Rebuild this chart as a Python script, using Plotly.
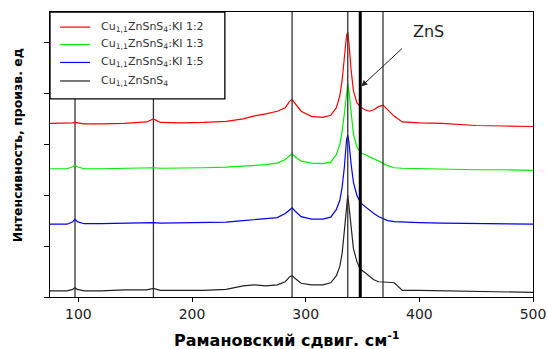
import plotly.graph_objects as go

# Raman shift grid (cm^-1)
shift = [75, 90, 95, 97, 99, 105, 120, 140, 160, 166, 172, 190, 210, 230, 245, 255, 265, 275,
         282, 286, 288, 291, 296, 305, 315, 322, 327, 330, 332, 334, 336, 337, 338, 340, 342,
         345, 348, 352, 356, 360, 364, 368, 372, 378, 385, 400, 420, 450, 475, 500]

ki_1_2 = [3.41, 3.41, 3.42, 3.43, 3.42, 3.40, 3.40, 3.41, 3.44, 3.50, 3.43, 3.42, 3.43, 3.45,
          3.50, 3.56, 3.60, 3.65, 3.72, 3.85, 3.88, 3.80, 3.65, 3.55, 3.53, 3.57, 3.72, 3.95,
          4.25, 4.7, 5.15, 5.2, 5.0, 4.45, 4.05, 3.82, 3.74, 3.68, 3.65, 3.68, 3.74, 3.77, 3.68,
          3.55, 3.44, 3.42, 3.41, 3.37, 3.36, 3.35]

ki_1_3 = [2.52, 2.52, 2.56, 2.59, 2.56, 2.52, 2.52, 2.53, 2.53, 2.54, 2.53, 2.53, 2.54, 2.55,
          2.57, 2.58, 2.60, 2.63, 2.70, 2.78, 2.81, 2.75, 2.67, 2.63, 2.62, 2.65, 2.80, 3.00,
          3.25, 3.60, 4.10, 4.20, 4.05, 3.55, 3.20, 2.95, 2.84, 2.80, 2.76, 2.72, 2.68, 2.63,
          2.58, 2.54, 2.53, 2.52, 2.52, 2.50, 2.50, 2.49]

ki_1_5 = [1.43, 1.43, 1.48, 1.53, 1.48, 1.44, 1.44, 1.45, 1.45, 1.46, 1.45, 1.46, 1.46, 1.47,
          1.50, 1.52, 1.53, 1.56, 1.64, 1.72, 1.75, 1.68, 1.58, 1.53, 1.53, 1.57, 1.72, 1.90,
          2.15, 2.55, 3.10, 3.18, 3.05, 2.60, 2.25, 2.00, 1.86, 1.78, 1.70, 1.64, 1.58, 1.54,
          1.50, 1.48, 1.47, 1.46, 1.45, 1.44, 1.43, 1.43]

pure = [0.12, 0.12, 0.15, 0.18, 0.15, 0.12, 0.12, 0.14, 0.14, 0.17, 0.13, 0.13, 0.13, 0.15,
        0.22, 0.24, 0.22, 0.24, 0.30, 0.40, 0.42, 0.36, 0.27, 0.24, 0.24, 0.28, 0.42, 0.60,
        0.85, 1.30, 1.85, 2.00, 1.80, 1.30, 0.95, 0.70, 0.55, 0.48, 0.40, 0.34, 0.30, 0.29,
        0.29, 0.28, 0.13, 0.13, 0.12, 0.11, 0.10, 0.09]

series_names = ["Cu<sub>1,1</sub>ZnSnS<sub>4</sub>:KI 1:2",
                "Cu<sub>1,1</sub>ZnSnS<sub>4</sub>:KI 1:3",
                "Cu<sub>1,1</sub>ZnSnS<sub>4</sub>:KI 1:5",
                "Cu<sub>1,1</sub>ZnSnS<sub>4</sub>"]
series_values = [ki_1_2, ki_1_3, ki_1_5, pure]
series_colors = ["#ff0000", "#00ee00", "#0000ff", "#222222"]

low_lines = [97, 166]
thin_lines = [288, 337, 368]
thick_lines = [348]

x_ticks = [100, 200, 300, 400, 500]
y_ticks = [0, 1, 2, 3, 4, 5]

FONT = "DejaVu Sans, Verdana, sans-serif"

fig = go.Figure()
for name, vals, col in zip(series_names, series_values, series_colors):
    fig.add_trace(go.Scatter(x=shift, y=vals, mode="lines", name=name,
                             line=dict(color=col, width=1.2), showlegend=False))

for v in low_lines:
    fig.add_shape(type="line", xref="x", yref="paper", x0=v, x1=v, y0=0, y1=1,
                  line=dict(color="#333333", width=1.3), layer="below")
for v in thin_lines:
    fig.add_shape(type="line", xref="x", yref="paper", x0=v, x1=v, y0=0, y1=1,
                  line=dict(color="#333333", width=1.3), layer="above")
for v in thick_lines:
    fig.add_shape(type="line", xref="x", yref="paper", x0=v, x1=v, y0=0, y1=1,
                  line=dict(color="#000000", width=3), layer="above")

# legend box (drawn by hand to match the original's compact layout)
fig.add_shape(type="rect", xref="paper", yref="paper", x0=0, x1=0.362, y0=0.695, y1=1,
              line=dict(color="#000000", width=1.3), fillcolor="white", layer="above")
legend_rows = [0.947, 0.886, 0.823, 0.758]
for name, col, yy in zip(series_names, series_colors, legend_rows):
    fig.add_shape(type="line", xref="paper", yref="paper", x0=0.021, x1=0.083, y0=yy, y1=yy,
                  line=dict(color=col, width=1.2), layer="above")
    fig.add_annotation(x=0.101, y=yy, xref="paper", yref="paper", text=name,
                       showarrow=False, xanchor="left", yanchor="middle",
                       font=dict(size=11, color="#333333", family=FONT))

fig.add_annotation(x=349, y=4.14, xref="x", yref="y", text="", showarrow=True,
                   arrowhead=2, arrowsize=1.2, arrowwidth=1, arrowcolor="#222222",
                   ax=42, ay=-39)
fig.add_annotation(x=0.783, y=0.93, xref="paper", yref="paper", text="ZnS",
                   showarrow=False, font=dict(size=16, color="#222222", family=FONT),
                   xanchor="center", yanchor="middle")

fig.add_annotation(x=-0.068, y=0.533, xref="paper", yref="paper",
                   text="<b>Интенсивность, произв. ед</b>", textangle=-90,
                   showarrow=False, font=dict(size=12.5, color="#000000", family=FONT),
                   xanchor="center", yanchor="middle")
fig.add_annotation(x=0.49, y=-0.15, xref="paper", yref="paper",
                   text="<b>Рамановский сдвиг. см<sup>-1</sup></b>",
                   showarrow=False, font=dict(size=16, color="#000000", family=FONT),
                   xanchor="center", yanchor="middle")

fig.update_layout(
    width=548, height=349,
    margin=dict(l=50, r=15, t=12, b=52, autoexpand=False),
    paper_bgcolor="white", plot_bgcolor="white",
    font=dict(family=FONT, color="#222222"),
    showlegend=False,
    xaxis=dict(range=[75, 500], tickvals=x_ticks, ticks="outside", ticklen=4,
               tickcolor="#000000", showline=True, linecolor="#000000", linewidth=1,
               mirror=True, showgrid=False, zeroline=False, automargin=False,
               tickfont=dict(size=14, color="#222222", family=FONT)),
    yaxis=dict(range=[0, 5.6], tickvals=y_ticks, showticklabels=False,
               ticks="outside", ticklen=5, tickcolor="#000000",
               showline=True, linecolor="#000000", linewidth=1, mirror=True,
               showgrid=False, zeroline=False, automargin=False),
)

fig.write_html("out.html", config={"displayModeBar": False},
               post_script="document.body.style.margin='0px';")
